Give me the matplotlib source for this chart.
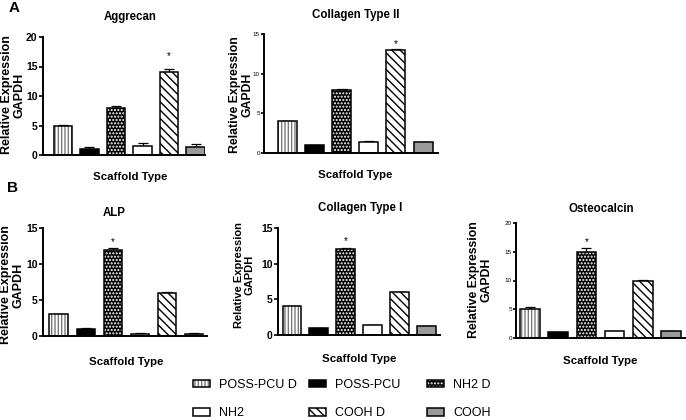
import matplotlib
matplotlib.use('Agg')
import matplotlib.pyplot as plt
from matplotlib.legend_handler import HandlerTuple
import numpy as np

plt.rcParams['font.family'] = ['Liberation Sans', 'DejaVu Sans']
plt.rcParams['hatch.linewidth'] = 1.0

# ---------------- data ----------------
groups = ['POSS-PCU D', 'POSS-PCU', 'NH2 D', 'NH2', 'COOH D', 'COOH']

aggrecan = [5.0, 1.0, 8.0, 1.5, 14.0, 1.4]
aggrecan_err = [0.05, 0.4, 0.35, 0.5, 0.55, 0.5]

collagen2 = [4.0, 1.0, 8.0, 1.35, 13.0, 1.35]
collagen2_err = [0.05, 0.05, 0.05, 0.1, 0.1, 0.05]

alp = [3.0, 1.0, 12.0, 0.3, 6.0, 0.3]
alp_err = [0.05, 0.05, 0.25, 0.05, 0.05, 0.05]

collagen1 = [4.0, 1.0, 12.0, 1.35, 6.0, 1.25]
collagen1_err = [0.05, 0.05, 0.2, 0.1, 0.05, 0.05]

osteocalcin = [5.1, 1.0, 15.0, 1.2, 10.0, 1.2]
osteocalcin_err = [0.3, 0.1, 0.6, 0.1, 0.1, 0.1]

titles = ['Aggrecan', 'Collagen Type II', 'ALP', 'Collagen Type I', 'Osteocalcin']
y_max = [20, 15, 15, 15, 20]
significant = [4, 4, 2, 2, 2]   # index of the bar marked with *

# ---------------- styles ----------------
W, H = 686, 420
fig = plt.figure(figsize=(W / 100, H / 100), dpi=100)

bar_styles = [
    dict(fc='white', hatch='|||||', hc='#7a7a7a'),
    dict(fc='black', hatch=None, hc='black'),
    dict(fc='black', hatch='.....', hc='white'),
    dict(fc='white', hatch=None, hc='black'),
    dict(fc='white', hatch='\\\\\\\\', hc='black'),
    dict(fc='#9a9a9a', hatch=None, hc='black'),
]

panels = [
    dict(vals=aggrecan, err=aggrecan_err, box=(43, 205, 37, 155), xlim=(-0.75, 5.35),
         tfs=7.5, tbold=True, tlen=3, title_xy=(130, 17), xl_xy=(130, 177), yl_xy=(13, 95),
         ylfs=9.0, star_off=7),
    dict(vals=collagen2, err=collagen2_err, box=(264, 438, 34, 153), xlim=(-0.86, 5.55),
         tfs=4.5, tbold=False, tlen=2, title_xy=(356, 15), xl_xy=(355, 175), yl_xy=(241, 95),
         ylfs=8.8, star_off=1.5),
    dict(vals=alp, err=alp_err, box=(43, 207, 228, 336), xlim=(-0.59, 5.48),
         tfs=7.5, tbold=True, tlen=3, title_xy=(114, 213), xl_xy=(126, 362), yl_xy=(12, 285),
         ylfs=9.0, star_off=2),
    dict(vals=collagen1, err=collagen1_err, box=(278, 440, 228, 335), xlim=(-0.52, 5.5),
         tfs=7.5, tbold=True, tlen=3, title_xy=(360, 208), xl_xy=(359, 359), yl_xy=(244, 275),
         ylfs=8.0, star_off=2.5),
    dict(vals=osteocalcin, err=osteocalcin_err, box=(516, 685, 223, 338), xlim=(-0.5, 5.5),
         tfs=4.5, tbold=False, tlen=2, title_xy=(601, 209), xl_xy=(600, 361), yl_xy=(480, 280),
         ylfs=8.8, star_off=2),
]

x = np.arange(len(groups))
width = 0.7
legend_handles = None

for p, title, ymax, sig in zip(panels, titles, y_max, significant):
    l, r, t, b = p['box']
    ax = fig.add_axes([l / W, 1 - b / H, (r - l) / W, (b - t) / H])
    handles = []
    for i, st in enumerate(bar_styles):
        with plt.rc_context({'hatch.color': st['hc']}):
            base = ax.bar(x[i], p['vals'][i], width, color=st['fc'], hatch=st['hatch'],
                          linewidth=0, zorder=2)[0]
        outline = ax.bar(x[i], p['vals'][i], width, fill=False, edgecolor='black',
                         linewidth=1.1, zorder=3)[0]
        handles.append((base, outline))
    if legend_handles is None:
        legend_handles = handles
    ax.errorbar(x, p['vals'], yerr=[np.zeros(len(x)), p['err']], fmt='none',
                ecolor='black', elinewidth=0.9, capsize=3.5, capthick=0.9, zorder=1)
    ax.annotate('*', xy=(x[sig], p['vals'][sig] + p['err'][sig]),
                xytext=(0, p['star_off']), textcoords='offset points',
                ha='center', va='baseline', fontsize=7)
    ax.set_xlim(*p['xlim'])
    ax.set_ylim(0, ymax)
    ax.set_yticks(np.arange(0, ymax + 1, 5))
    ax.set_xticks([])
    for s in ['top', 'right']:
        ax.spines[s].set_visible(False)
    for s in ['left', 'bottom']:
        ax.spines[s].set_linewidth(1.4)
    ax.tick_params(axis='y', direction='out', length=p['tlen'], width=1.2, pad=1,
                   labelsize=p['tfs'])
    for lab in ax.get_yticklabels():
        lab.set_fontweight('bold' if p['tbold'] else 'normal')
    ax.patch.set_alpha(0)

    tx, ty = p['title_xy']
    fig.text(tx / W, 1 - ty / H, title, ha='center', va='center',
             fontsize=8.3, fontweight='bold')
    xx, xy = p['xl_xy']
    fig.text(xx / W, 1 - xy / H, 'Scaffold Type', ha='center', va='center',
             fontsize=8.2, fontweight='bold')
    yx, yy = p['yl_xy']
    fig.text(yx / W, 1 - yy / H, 'Relative Expression\nGAPDH', ha='center', va='center',
             rotation=90, multialignment='center', fontsize=p['ylfs'],
             fontweight='bold', linespacing=1.1)

fig.text(14 / W, 1 - 8 / H, 'A', ha='center', va='center', fontsize=11, fontweight='bold')
fig.text(13 / W, 1 - 188 / H, 'B', ha='center', va='center', fontsize=11, fontweight='bold')

# legend: three columns of two entries
col_x = [193, 309, 427]
order = [[0, 3], [1, 4], [2, 5]]
for cx, idx in zip(col_x, order):
    fig.legend([legend_handles[i] for i in idx], [groups[i] for i in idx],
               handler_map={tuple: HandlerTuple(ndivide=1)},
               loc='upper left', bbox_to_anchor=(cx / W, 1 - 379 / H),
               frameon=False, borderpad=0, borderaxespad=0,
               handlelength=1.36, handleheight=0.56, handletextpad=0.72,
               labelspacing=1.3, fontsize=9)

fig.savefig('out.png', dpi=100)
